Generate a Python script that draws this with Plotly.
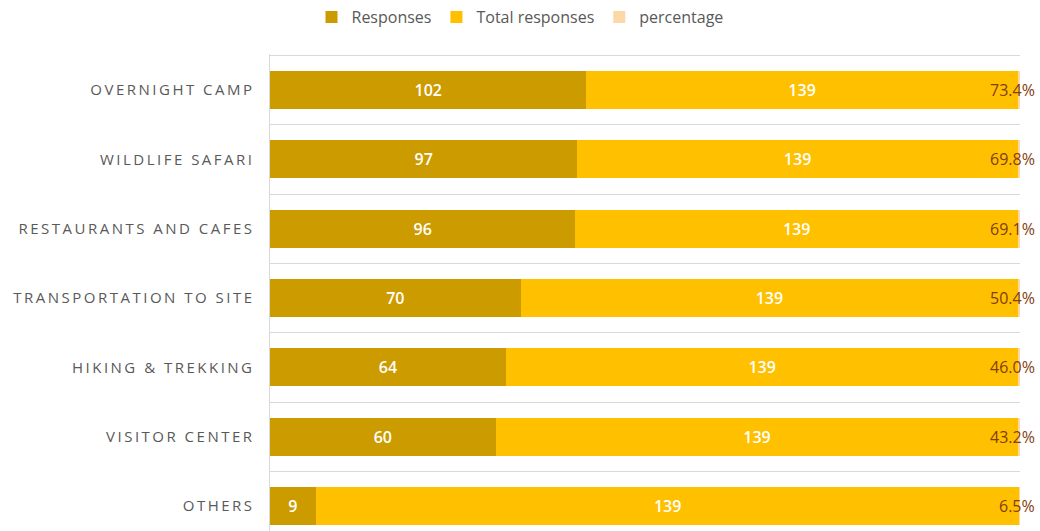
import plotly.graph_objects as go

categories = ["OVERNIGHT CAMP", "WILDLIFE SAFARI", "RESTAURANTS AND CAFES",
              "TRANSPORTATION TO SITE", "HIKING & TREKKING", "VISITOR CENTER", "OTHERS"]
responses = [102, 97, 96, 70, 64, 60, 9]
total_responses = [139, 139, 139, 139, 139, 139, 139]
percentage = [73.4, 69.8, 69.1, 50.4, 46.0, 43.2, 6.5]

TS = "\u2009"
def spaced(s):
    return TS.join(list(s))

labels = [spaced(c) for c in categories]
FONT = "Open Sans"
GREY = "#595959"

fig = go.Figure()
fig.add_trace(go.Bar(
    name="Responses", y=labels, x=responses, orientation="h",
    marker=dict(color="#CC9B00", line=dict(width=0)),
    text=[str(v) for v in responses], textposition="inside", insidetextanchor="middle",
    insidetextfont=dict(color="white", size=16, family=FONT, weight=600),
))
fig.add_trace(go.Bar(
    name="Total responses", y=labels, x=total_responses, orientation="h",
    marker=dict(color="#FFC000", line=dict(width=0)),
    text=[str(v) for v in total_responses], textposition="inside", insidetextanchor="middle",
    insidetextfont=dict(color="white", size=16, family=FONT, weight=600),
))
fig.add_trace(go.Bar(
    name="percentage", y=labels, x=[p / 100 for p in percentage], orientation="h",
    marker=dict(color="#FBD8A5", line=dict(width=0)),
    textposition="none",
))

for lab, p in zip(labels, percentage):
    fig.add_annotation(x=100, y=lab, xref="x", yref="y", text=f"{p:.1f}%",
                       showarrow=False, xanchor="right", xshift=17,
                       font=dict(color="#843C0C", size=16, family=FONT))

fig.update_layout(
    width=1040, height=531,
    margin=dict(l=270, r=20, t=54, b=0),
    barmode="stack", barnorm="percent", bargap=0.45,
    plot_bgcolor="white", paper_bgcolor="white",
    font=dict(family=FONT, color=GREY),
    showlegend=True,
    legend=dict(orientation="h", xref="container", x=0.5, xanchor="center",
                yref="container", y=1.0, yanchor="top",
                font=dict(size=16, color=GREY, family=FONT),
                traceorder="normal", itemwidth=30),
    xaxis=dict(range=[0, 100], showticklabels=False, showgrid=False, zeroline=False,
               showline=False, fixedrange=True),
    yaxis=dict(categoryorder="array", categoryarray=labels[::-1],
               range=[-0.36, 6.52], tickson="boundaries", showgrid=True,
               gridcolor="#D9D9D9", gridwidth=1, ticks="", showline=True,
               linecolor="#D9D9D9", linewidth=1, zeroline=False,
               tickfont=dict(size=15, color=GREY, family=FONT),
               ticklabelstandoff=14),
)

fig.write_html("out.html")
